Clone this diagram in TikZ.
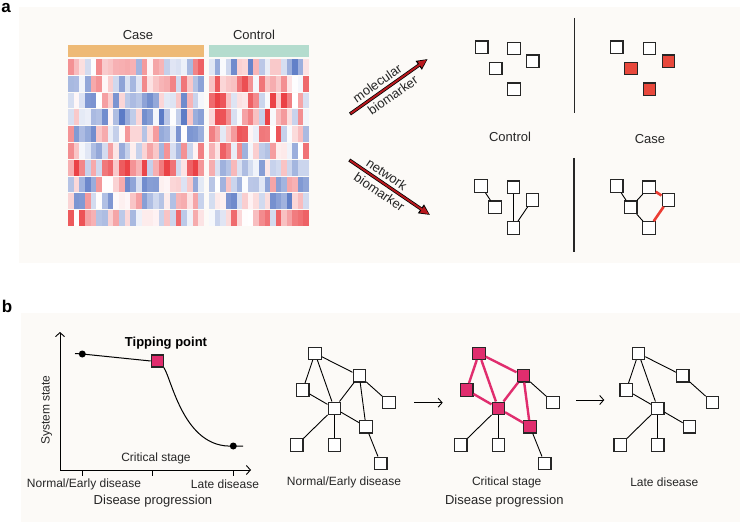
\documentclass[tikz,border=0pt]{standalone}
\usepackage{fontspec}
\setmainfont{Liberation Sans}
\usetikzlibrary{arrows.meta,positioning}
\definecolor{PanelBG}{RGB}{252,250,247}
\definecolor{CaseBar}{RGB}{238,186,118}
\definecolor{CtrlBar}{RGB}{180,220,206}
\definecolor{HMred}{RGB}{232,40,45}
\definecolor{HMblue}{RGB}{70,105,190}
\definecolor{ArrRed}{RGB}{185,25,30}
\definecolor{MarkRed}{RGB}{232,72,60}
\definecolor{TipPink}{RGB}{224,45,110}
\tikzset{
  sqbox/.style={draw=black!85,line width=1.2pt,fill=white,minimum size=12.4pt,inner sep=0pt},
  sqred/.style={sqbox,fill=MarkRed},
  sqpink/.style={sqbox,fill=TipPink},
  dotnode/.style={circle,fill=black,minimum size=7pt,inner sep=0pt},
  edg/.style={line width=0.9pt,draw=black},
  redg/.style={line width=2.6pt,draw=MarkRed!85!red},
  pedg/.style={line width=2.4pt,draw=TipPink},
  bigarr/.style={line width=3.4pt,draw=black,-{Triangle[length=11pt,width=10pt]}},
  bigarrin/.style={line width=1.9pt,draw=ArrRed,shorten <=0.8pt,shorten >=1.3pt,-{Triangle[length=8.5pt,width=7pt]}},
  flowarr/.style={-{Straight Barb[length=4pt,width=9pt]},line width=0.9pt},
  lbl/.style={font=\fontsize{12}{14}\selectfont,text=black!85,inner sep=0pt},
  hdr/.style={font=\fontsize{13}{15}\selectfont,text=black!85,inner sep=0pt},
  alab/.style={font=\fontsize{13}{15}\selectfont,text=black!85,sloped,inner sep=3pt},
  panlab/.style={font=\fontsize{17}{19}\selectfont\bfseries,inner sep=0pt}
}

\begin{document}
\begin{tikzpicture}[x=1pt,y=-1pt]
\useasboundingbox (0,0) rectangle (740,524);
\fill[white] (0,0) rectangle (740,524);
% panels
\fill[PanelBG] (19,7) rectangle (740,263);
\fill[PanelBG] (21,313) rectangle (740,522);
\node[panlab] (pa) at (6,8) {a};
\node[panlab] (pb) at (7,306) {b};

% ---- panel a: heatmap
\node[hdr] (hcase) at (138,35) {Case};
\node[hdr] (hctrl) at (254,35) {Control};
\fill[CaseBar] (68,45) rectangle (204,57);
\fill[CtrlBar] (209,45) rectangle (309,57);
\pgfmathsetseed{4242}
\foreach \r in {0,...,9}{
  \pgfmathsetmacro{\bias}{0.4*rand}
  \foreach \c in {0,...,23}{
    \pgfmathsetmacro{\v}{0.75*rand+\bias}
    \pgfmathtruncatemacro{\amt}{min(1,abs(\v))*88}
    \ifdim\v pt<0pt \def\hc{HMblue}\else\def\hc{HMred}\fi
    \fill[\hc!\amt!white] ({68+\c*5.667},{59+\r*16.8}) rectangle ++(5.667,15.8);
  }
  \pgfmathsetmacro{\bias}{0.4*rand}
  \foreach \c in {0,...,17}{
    \pgfmathsetmacro{\v}{0.75*rand+\bias}
    \pgfmathtruncatemacro{\amt}{min(1,abs(\v))*88}
    \ifdim\v pt<0pt \def\hc{HMblue}\else\def\hc{HMred}\fi
    \fill[\hc!\amt!white] ({209+\c*5.556},{59+\r*16.8}) rectangle ++(5.556,15.8);
  }
}

% ---- panel a: biomarker arrows
\coordinate (m0) at (350,114);
\coordinate (m1) at (427.7,59);
\coordinate (w0) at (349.3,160);
\coordinate (w1) at (430,215);
\draw[bigarr] (m0) -- node[alab,above,pos=0.42]{molecular} node[alab,below,pos=0.48]{biomarker} (m1);
\draw[bigarrin] (m0) -- (m1);
\draw[bigarr] (w0) -- node[alab,above,pos=0.40]{network} node[alab,below,pos=0.44]{biomarker} (w1);
\draw[bigarrin] (w0) -- (w1);

% ---- panel a: molecular markers
\node[sqbox] (ua1) at (481.7,47.3) {};
\node[sqbox] (ua2) at (514,48.7) {};
\node[sqbox] (ua3) at (532.7,61.3) {};
\node[sqbox] (ua4) at (495.7,68.7) {};
\node[sqbox] (ua5) at (514,89.3) {};
\node[sqbox] (ub1) at (616.7,47.3) {};
\node[sqbox] (ub2) at (649.3,48.7) {};
\node[sqred] (ub3) at (668.3,61.3) {};
\node[sqred] (ub4) at (631,68.7) {};
\node[sqred] (ub5) at (649.3,89.3) {};
\draw[line width=1.1pt,black!85] (574.3,18) -- (574.3,113);
\node[hdr] (lctrl) at (510,137) {Control};
\node[hdr] (lcase) at (650,139) {Case};

% ---- panel a: network markers
\node[sqbox] (la1) at (481,186) {};
\node[sqbox] (la2) at (495,207.3) {};
\node[sqbox] (la3) at (513.3,187.3) {};
\node[sqbox] (la4) at (532.3,200) {};
\node[sqbox] (la5) at (513.3,228) {};
\draw[edg] (la1) -- (la2);
\draw[edg] (la3) -- (la5);
\draw[edg] (la4) -- (la5);
\node[sqbox] (lb1) at (616.7,186) {};
\node[sqbox] (lb2) at (630.7,207.3) {};
\node[sqbox] (lb3) at (649,187.3) {};
\node[sqbox] (lb4) at (668.3,200) {};
\node[sqbox] (lb5) at (649,228) {};
\draw[edg] (lb1) -- (lb2);
\draw[edg] (lb2) -- (lb3);
\draw[edg] (lb2) -- (lb5);
\draw[redg] (lb3) -- (lb4);
\draw[redg] (lb4) -- (lb5);
\draw[line width=1.1pt,black!85] (574,158) -- (574,252);

% ---- panel b: state curve
\coordinate (org) at (60,470);
\coordinate (ytop) at (60,332);
\coordinate (xend) at (251,470);
\draw[flowarr] (org) -- (ytop);
\draw[flowarr] (org) -- (xend);
\foreach \tx in {82.3,152.3,233.3}
  \draw[line width=0.9pt] (\tx,470) -- (\tx,476);
\coordinate (lead) at (75,353.5);
\node[dotnode] (d1) at (82.3,354) {};
\node[sqpink,minimum size=12pt] (tp) at (157.3,361) {};
\node[dotnode] (d2) at (233.3,446) {};
\coordinate (tail) at (243,446);
\draw[line width=1pt] (lead) -- (d1.center) -- (tp.west);
\draw[line width=1pt] (tp.south east) .. controls (172,380) and (184,449) .. (d2.center) -- (tail);
\node[font=\fontsize{13}{15}\selectfont\bfseries,inner sep=0pt] (tplab) at (166,343) {Tipping point};
\node[lbl,rotate=90] (sslab) at (46.7,410) {System state};
\node[lbl] (cslab) at (156,458.5) {Critical stage};
\node[lbl] (nelab) at (84,484) {Normal/Early disease};
\node[lbl] (ldlab) at (225,484) {Late disease};
\node[hdr] (dplab) at (153,500.7) {Disease progression};

% ---- panel b: normal network
\node[sqbox] (na1) at (315,353.3) {};
\node[sqbox] (na2) at (302.7,390) {};
\node[sqbox] (na3) at (359.3,375.7) {};
\node[sqbox] (na4) at (334.3,408.3) {};
\node[sqbox] (na5) at (389,402.3) {};
\node[sqbox] (na6) at (366,426.7) {};
\node[sqbox] (na7) at (296.7,445) {};
\node[sqbox] (na8) at (334.3,445) {};
\node[sqbox] (na9) at (380.7,463.3) {};
\draw[edg] (na1) -- (na2);
\draw[edg] (na1) -- (na4);
\draw[edg] (na1) -- (na3);
\draw[edg] (na2) -- (na4);
\draw[edg] (na3) -- (na4);
\draw[edg] (na3) -- (na6);
\draw[edg] (na3) -- (na5);
\draw[edg] (na4) -- (na6);
\draw[edg] (na4) -- (na7);
\draw[edg] (na4) -- (na8);
\draw[edg] (na6) -- (na9);
\node[lbl] (nnlab) at (344,482.7) {Normal/Early disease};

% ---- panel b: critical network
\node[sqpink] (nb1) at (479,353.3) {};
\node[sqpink] (nb2) at (466.7,390) {};
\node[sqpink] (nb3) at (523.3,375.7) {};
\node[sqpink] (nb4) at (498.3,408.3) {};
\node[sqbox] (nb5) at (553,402.3) {};
\node[sqpink] (nb6) at (530,426.7) {};
\node[sqbox] (nb7) at (460.7,445) {};
\node[sqbox] (nb8) at (498.3,445) {};
\node[sqbox] (nb9) at (544.7,463.3) {};
\draw[pedg] (nb1) -- (nb2);
\draw[pedg] (nb1) -- (nb4);
\draw[pedg] (nb1) -- (nb3);
\draw[pedg] (nb2) -- (nb4);
\draw[pedg] (nb3) -- (nb4);
\draw[pedg] (nb3) -- (nb6);
\draw[pedg] (nb4) -- (nb6);
\draw[edg] (nb3) -- (nb5);
\draw[edg] (nb4) -- (nb7);
\draw[edg] (nb4) -- (nb8);
\draw[edg] (nb6) -- (nb9);
\node[lbl] (cnlab) at (506.7,482.7) {Critical stage};
\node[hdr] (dplab2) at (504.3,500.7) {Disease progression};

% ---- panel b: late network
\node[sqbox] (nc1) at (638.5,353.3) {};
\node[sqbox] (nc2) at (626.2,390) {};
\node[sqbox] (nc3) at (682.8,375.7) {};
\node[sqbox] (nc4) at (657.8,408.3) {};
\node[sqbox] (nc5) at (712.5,402.3) {};
\node[sqbox] (nc6) at (689.5,426.7) {};
\node[sqbox] (nc7) at (620.2,445) {};
\node[sqbox] (nc8) at (657.8,445) {};
\draw[edg] (nc1) -- (nc2);
\draw[edg] (nc1) -- (nc4);
\draw[edg] (nc1) -- (nc3);
\draw[edg] (nc2) -- (nc4);
\draw[edg] (nc3) -- (nc5);
\draw[edg] (nc4) -- (nc6);
\draw[edg] (nc4) -- (nc7);
\draw[edg] (nc4) -- (nc8);
\node[lbl] (lnlab) at (664.3,482.7) {Late disease};

% ---- panel b: progression arrows
\coordinate (f0) at (414.3,402.7);
\coordinate (f1) at (442.7,402.7);
\coordinate (g0) at (576,400);
\coordinate (g1) at (604.3,400);
\draw[flowarr] (f0) -- (f1);
\draw[flowarr] (g0) -- (g1);
\end{tikzpicture}
\end{document}
